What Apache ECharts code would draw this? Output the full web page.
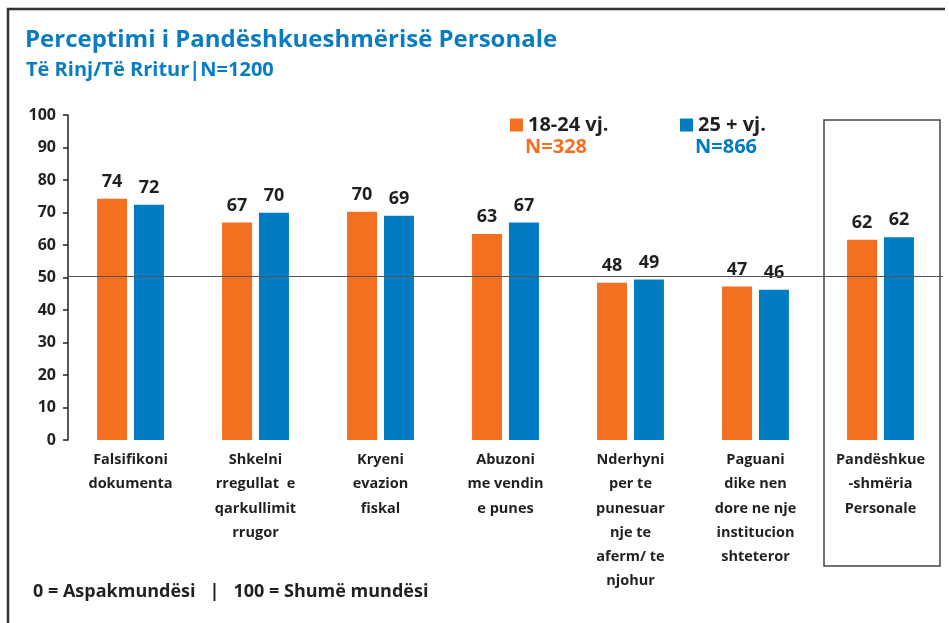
<!DOCTYPE html>
<html lang="sq">
<head>
<meta charset="utf-8">
<title>Perceptimi i Pandëshkueshmërisë Personale</title>
<script src="https://cdn.jsdelivr.net/npm/echarts@6/dist/echarts.min.js"></script>
<style>
  html, body { margin: 0; padding: 0; background: #fff; }
  #chart { width: 949px; height: 623px; }
</style>
</head>
<body>
<div id="chart"></div>
<script>
// data
var categories = [
  'Falsifikoni\ndokumenta',
  'Shkelni\nrregullat  e\nqarkullimit\nrrugor',
  'Kryeni\nevazion\nfiskal',
  'Abuzoni\nme vendin\ne punes',
  'Nderhyni\nper te\npunesuar\nnje te\naferm/ te\nnjohur',
  'Paguani\ndike nen\ndore ne nje\ninstitucion\nshteteror',
  'Pandëshkue\n-shmëria\nPersonale'
];
var seriesNames = ['18-24 vj.', '25 + vj.'];
var sampleSizes = ['N=328', 'N=866'];
var young = [74.2, 66.9, 70.2, 63.4, 48.4, 47.2, 61.6];
var adult = [72.4, 69.9, 69.0, 66.9, 49.4, 46.2, 62.4];
var yTicks = [0, 10, 20, 30, 40, 50, 60, 70, 80, 90, 100];
var refValue = 50.5;

var ORANGE = '#f37021';
var BLUE = '#007cc3';
var TITLE_BLUE = '#0a7cc2';
var DARK = '#231f20';
var FONT = '"Open Sans", "Noto Sans", sans-serif';

var chart = echarts.init(document.getElementById('chart'));

var legendText = { color: DARK, fontSize: 20, fontWeight: 'bold', fontFamily: FONT };
var barLabel = {
  show: true,
  position: 'top',
  distance: 8,
  color: DARK,
  fontSize: 18,
  fontWeight: 'bold',
  fontFamily: FONT,
  formatter: function (p) { return Math.round(p.value); }
};

chart.setOption({
  animation: false,
  textStyle: { fontFamily: FONT },
  title: [{
    text: 'Perceptimi i Pandëshkueshmërisë Personale',
    left: 25,
    top: 28,
    padding: 0,
    textStyle: { color: TITLE_BLUE, fontSize: 24, fontWeight: 'bold', fontFamily: FONT }
  }, {
    text: 'Të Rinj/Të Rritur|N=1200',
    left: 26,
    top: 60,
    padding: 0,
    textStyle: { color: TITLE_BLUE, fontSize: 20, fontWeight: 'bold', fontFamily: FONT }
  }],
  legend: [{
    data: [seriesNames[0]],
    left: 505,
    top: 110,
    icon: 'rect',
    itemWidth: 13,
    itemHeight: 13,
    textStyle: legendText
  }, {
    data: [seriesNames[1]],
    left: 675,
    top: 110,
    icon: 'rect',
    itemWidth: 13,
    itemHeight: 13,
    textStyle: legendText
  }],
  grid: { left: 68, right: 6, top: 115, bottom: 183 },
  xAxis: {
    type: 'category',
    data: categories,
    axisLine: { show: false },
    axisTick: { show: false },
    axisLabel: {
      interval: 0,
      margin: 8,
      color: DARK,
      fontSize: 14.5,
      fontWeight: 'bold',
      lineHeight: 24.2,
      fontFamily: FONT
    }
  },
  yAxis: {
    type: 'value',
    min: yTicks[0],
    max: yTicks[yTicks.length - 1],
    interval: yTicks[1] - yTicks[0],
    axisLine: { show: true, lineStyle: { color: DARK, width: 1.5 } },
    axisTick: { show: true, length: 5, lineStyle: { color: DARK, width: 1.5 } },
    splitLine: { show: false },
    axisLabel: { color: DARK, fontSize: 16, fontWeight: 'bold', margin: 12, fontFamily: FONT }
  },
  series: [{
    name: seriesNames[0],
    type: 'bar',
    data: young,
    barWidth: 30,
    barGap: '23%',
    itemStyle: { color: ORANGE },
    label: barLabel,
    markLine: {
      silent: true,
      symbol: 'none',
      label: { show: false },
      lineStyle: { color: '#555', width: 1.2, type: 'solid' },
      data: [{ yAxis: refValue }]
    }
  }, {
    name: seriesNames[1],
    type: 'bar',
    data: adult,
    barWidth: 30,
    itemStyle: { color: BLUE },
    label: barLabel
  }],
  graphic: [
    // outer frame, only the left and top edges are inside the picture
    {
      type: 'polyline',
      shape: { points: [[8, 640], [8, 9], [945, 9]] },
      style: { fill: 'none', stroke: '#333', lineWidth: 2.5 },
      silent: true
    },
    // box around the overall category
    {
      type: 'rect',
      shape: { x: 824, y: 120, width: 116, height: 446 },
      style: { fill: 'none', stroke: '#444', lineWidth: 1.5 },
      silent: true
    },
    {
      type: 'text',
      x: 525, y: 147,
      style: { text: sampleSizes[0], fill: ORANGE, font: 'bold 20px ' + FONT, verticalAlign: 'middle' }
    },
    {
      type: 'text',
      x: 695, y: 147,
      style: { text: sampleSizes[1], fill: BLUE, font: 'bold 20px ' + FONT, verticalAlign: 'middle' }
    },
    {
      type: 'text',
      x: 33, y: 592,
      style: {
        text: '0 = Aspakmundësi   |   100 = Shumë mundësi',
        fill: DARK,
        font: 'bold 18px ' + FONT,
        verticalAlign: 'middle'
      }
    }
  ]
});

window.onresize = function () {
  chart.resize();
};
</script>
</body>
</html>
